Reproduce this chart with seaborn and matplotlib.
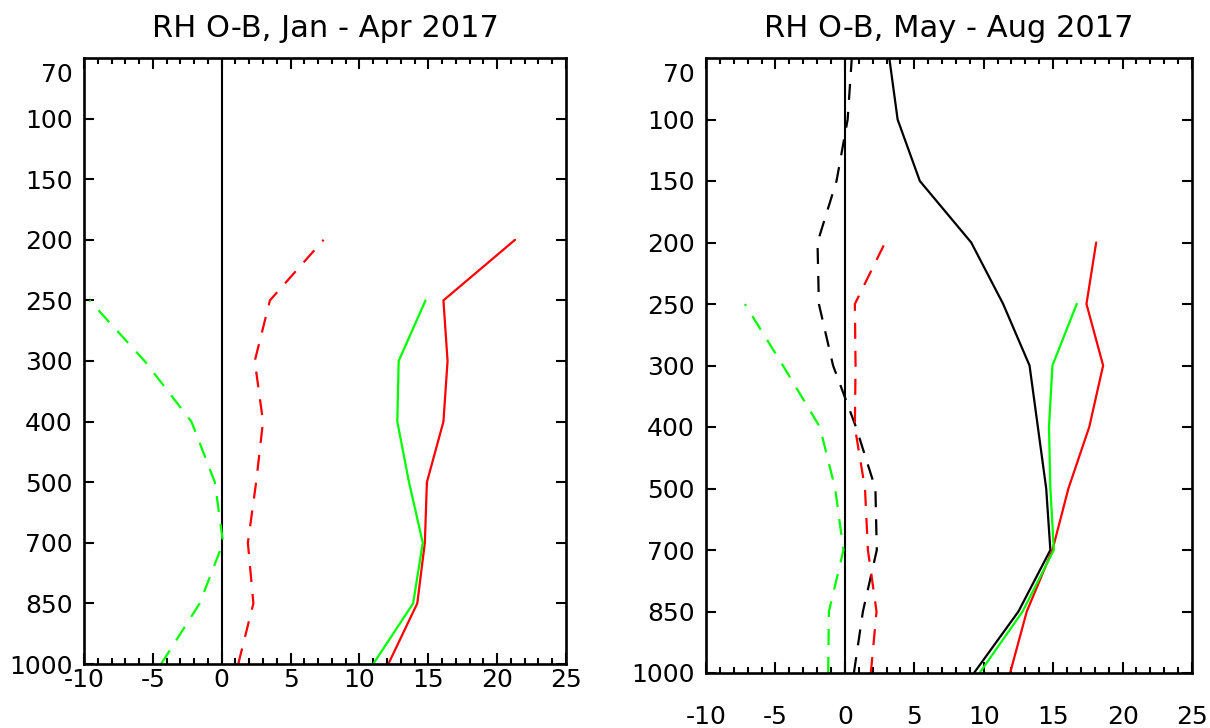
import matplotlib
matplotlib.use("Agg")
import matplotlib.pyplot as plt
import seaborn as sns
import numpy as np
from matplotlib.ticker import MultipleLocator

sns.set_style("ticks")
plt.rcParams['font.family'] = ['DejaVu Sans']
plt.rcParams['text.color'] = 'black'
plt.rcParams['xtick.color'] = 'black'
plt.rcParams['ytick.color'] = 'black'
plt.rcParams['axes.labelcolor'] = 'black'

# Pressure levels (hPa), bottom to top
levels = [1000, 850, 700, 500, 400, 300, 250, 200, 150, 100, 70]

# Left panel: Jan - Apr 2017 (values from 1000 hPa upward)
red_solid_L = [12.1, 14.2, 14.75, 14.9, 16.1, 16.4, 16.1, 21.3]
green_solid_L = [11.0, 13.9, 14.6, 13.6, 12.75, 12.85, 14.8]
red_dashed_L = [1.2, 2.3, 1.9, 2.5, 3.0, 2.4, 3.5, 7.4]
green_dashed_L = [-4.4, -1.6, 0.1, -0.5, -2.2, -5.6, -9.6]

# Right panel: May - Aug 2017
black_solid_R = [9.3, 12.5, 14.8, 14.5, 13.9, 13.3, 11.4, 9.1, 5.4, 3.8, 3.2]
black_dashed_R = [0.65, 1.3, 2.3, 2.2, 0.8, -0.85, -1.87, -1.97, -0.6, 0.2, 0.5]
red_solid_R = [11.9, 13.1, 14.95, 16.1, 17.6, 18.6, 17.4, 18.1]
green_solid_R = [9.7, 12.8, 15.05, 14.8, 14.7, 14.95, 16.7]
red_dashed_R = [1.87, 2.28, 1.66, 1.45, 0.72, 0.77, 0.72, 2.9]
green_dashed_R = [-1.2, -1.15, -0.1, -0.7, -1.8, -4.46, -7.2]

titles = ["RH O-B, Jan - Apr 2017", "RH O-B, May - Aug 2017"]
xticks = [-10, -5, 0, 5, 10, 15, 20, 25]

fig = plt.figure(figsize=(12.1, 7.28), dpi=100)
axL = fig.add_axes([84/1210, (728-664)/728, 482/1210, 606/728])
axR = fig.add_axes([706/1210, (728-673)/728, 486/1210, 615/728])

RED = "#ff0000"
GREEN = "#00ff00"
BLACK = "#000000"


def draw(ax, vals, color, dashed):
    idx = list(range(len(vals)))
    sns.lineplot(x=vals, y=idx, sort=False, estimator=None, color=color,
                 linewidth=1.6, ax=ax)
    ln = ax.lines[-1]
    if dashed:
        ln.set_dashes((7.2, 5.4))
    ln.set_solid_joinstyle('miter')


def style(ax, title, xpad):
    ax.set_xlim(-10, 25)
    ax.set_ylim(0, 10)
    ax.axvline(0, color='black', lw=1.5, zorder=1)
    ax.set_xticks(xticks)
    ax.set_xticklabels([str(t) for t in xticks])
    ax.xaxis.set_minor_locator(MultipleLocator(1))
    pos = list(range(10)) + [9.76]
    ax.set_yticks(pos)
    ax.set_yticklabels([str(l) for l in levels])
    ax.tick_params(axis='x', which='major', direction='in', length=8, width=1.5,
                   top=True, bottom=True, labelsize=18, pad=xpad)
    ax.tick_params(axis='x', which='minor', direction='in', length=4, width=1.5,
                   top=True, bottom=True)
    ax.tick_params(axis='y', which='major', direction='in', length=7.5, width=1.5,
                   left=True, right=True, labelsize=18, pad=8)
    ax.yaxis.get_major_ticks()[-1].tick1line.set_visible(False)
    ax.yaxis.get_major_ticks()[-1].tick2line.set_visible(False)
    for s in ax.spines.values():
        s.set_visible(True)
        s.set_linewidth(1.9)
        s.set_color('black')
    ax.set_title(title, fontsize=22, pad=15, color='black')
    ax.set_xlabel("")
    ax.set_ylabel("")


draw(axL, red_solid_L, RED, False)
draw(axL, green_solid_L, GREEN, False)
draw(axL, red_dashed_L, RED, True)
draw(axL, green_dashed_L, GREEN, True)
style(axL, titles[0], 3.0)

draw(axR, black_solid_R, BLACK, False)
draw(axR, black_dashed_R, BLACK, True)
draw(axR, red_solid_R, RED, False)
draw(axR, green_solid_R, GREEN, False)
draw(axR, red_dashed_R, RED, True)
draw(axR, green_dashed_R, GREEN, True)
style(axR, titles[1], 23)

fig.savefig("out.png", dpi=100)
